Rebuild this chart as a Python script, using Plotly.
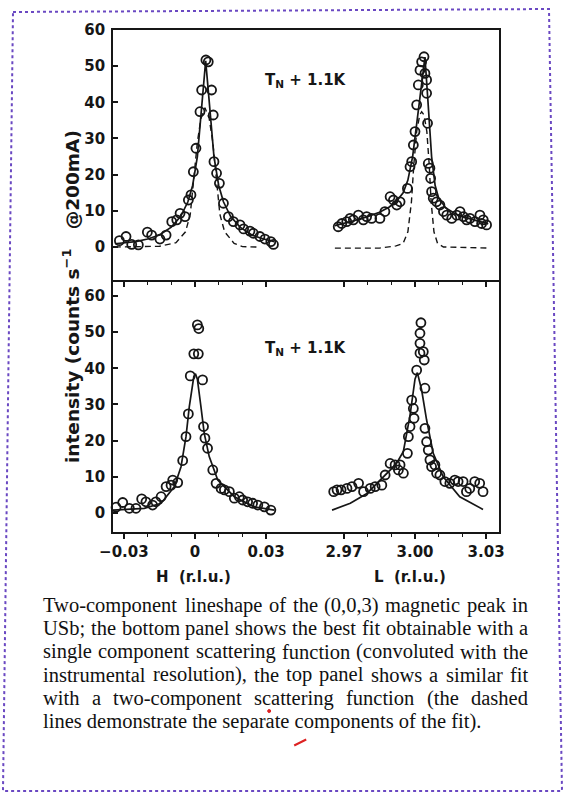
import plotly.graph_objects as go

# ---------------- data ----------------
# top panel, H scan (two-component fit)
h_top_x = [-0.0319, -0.0291, -0.0267, -0.0239, -0.0201, -0.0183, -0.0148, -0.0122, -0.0098, -0.0077,
           -0.0063, -0.0042, -0.0028, -0.0017, -0.0007, 0.0004, 0.0021, 0.0028, 0.0046, 0.0056,
           0.0070, 0.0077, 0.0080, 0.0091, 0.0103, 0.0120, 0.0141, 0.0162, 0.0190, 0.0205,
           0.0232, 0.0246, 0.0274, 0.0295, 0.0320, 0.0331]
h_top_y = [1.75, 2.9, 0.7, 0.6, 4.1, 3.3, 2.2, 3.3, 7.0, 7.5,
           9.3, 8.4, 13.0, 14.4, 20.8, 27.3, 37.4, 43.4, 51.7, 51.2,
           43.4, 36.5, 23.6, 20.4, 17.6, 12.1, 8.4, 7.0, 6.1, 5.0,
           4.4, 3.8, 2.9, 2.2, 1.5, 0.7]
fit_h_top_x = [-0.0338, -0.030, -0.025, -0.020, -0.015, -0.010, -0.006, -0.003, -0.001, 0.001, 0.0025,
               0.0035, 0.0045, 0.0055, 0.0065, 0.008, 0.010, 0.012, 0.015, 0.019, 0.024, 0.029, 0.0335]
fit_h_top_y = [0.9, 1.1, 1.5, 2.2, 3.3, 5.5, 8.5, 12.5, 17, 25, 37,
               44, 51.5, 44, 36, 25, 17, 12.5, 8.5, 5.5, 3.3, 2.2, 1.5]
comp_h_top_x = [-0.0338, -0.015, -0.008, -0.004, -0.002, -0.0005, 0.001, 0.0025, 0.0042, 0.006,
                0.0075, 0.009, 0.0105, 0.0125, 0.0165, 0.020, 0.026]
comp_h_top_y = [0.0, 0.2, 1.2, 4.2, 9, 19, 29, 35.5, 38.5, 35.5,
                29, 19, 9, 4.2, 1.0, 0.1, 0.0]

# top panel, L scan
l_top_x = [2.9676, 2.9691, 2.9712, 2.9726, 2.9740, 2.9761, 2.9782, 2.9796, 2.9817, 2.9852,
           2.9873, 2.9895, 2.9909, 2.9923, 2.9937, 2.9968, 2.9979, 2.9986, 2.9993, 3.0000,
           3.0007, 3.0014, 3.0021, 3.0028, 3.0038, 3.0042, 3.0049, 3.0049, 3.0053, 3.0056,
           3.0063, 3.0066, 3.0070, 3.0077, 3.0091, 3.0105, 3.0120, 3.0134, 3.0155, 3.0176,
           3.0190, 3.0204, 3.0218, 3.0232, 3.0253, 3.0274, 3.0281, 3.0288, 3.0302]
l_top_y = [5.6, 6.5, 7.0, 7.9, 7.5, 8.8, 7.5, 8.4, 7.9, 7.9,
           9.8, 13.9, 13.0, 11.6, 12.5, 16.2, 22.2, 23.6, 28.2, 31.9,
           39.3, 44.8, 48.9, 51.2, 52.6, 48.0, 46.2, 42.5, 34.2, 23.1,
           21.8, 19.0, 15.3, 13.5, 12.5, 11.6, 9.8, 8.8, 7.9, 8.8,
           9.8, 8.4, 7.5, 7.9, 7.0, 8.8, 6.5, 7.5, 6.1]
fit_l_top_x = [2.9662, 2.970, 2.975, 2.980, 2.985, 2.989, 2.992, 2.995, 2.997, 2.999, 3.001,
               3.003, 3.0042, 3.0055, 3.007, 3.0085, 3.010, 3.013, 3.017, 3.021, 3.026, 3.0309]
fit_l_top_y = [5.9, 6.5, 7.4, 8.4, 9.6, 11.0, 12.5, 15.0, 18.5, 25, 36,
               47, 52.5, 40, 25, 17, 13.5, 10.8, 9.2, 8.2, 7.2, 6.4]
comp_l_top_x = [2.9662, 2.985, 2.992, 2.995, 2.997, 2.9985, 2.9995, 3.0007, 3.002, 3.0028,
                3.0038, 3.005, 3.006, 3.0068, 3.008, 3.0095, 3.012, 3.0309]
comp_l_top_y = [-0.3, -0.3, 0.3, 1.0, 4.2, 12.5, 22.7, 31.9, 36.5, 37.4,
                36.5, 31.9, 22.7, 12.5, 4.2, 1.0, 0.0, -0.3]

# bottom panel, H scan (single-component fit)
h_bot_x = [-0.0333, -0.0305, -0.0277, -0.0249, -0.0225, -0.0207, -0.0179, -0.0165, -0.0143, -0.0122,
           -0.0101, -0.0094, -0.0073, -0.0052, -0.0038, -0.0028, -0.0020, -0.0005, 0.0014, 0.0010,
           0.0016, 0.0032, 0.0036, 0.0042, 0.0053, 0.0075, 0.0089, 0.0110, 0.0124, 0.0145,
           0.0166, 0.0187, 0.0201, 0.0222, 0.0243, 0.0265, 0.0293, 0.0320]
h_bot_y = [1.6, 2.9, 1.3, 1.3, 3.9, 3.1, 2.2, 3.1, 4.5, 7.3,
           7.7, 9.1, 8.4, 14.5, 21.1, 27.4, 37.9, 44.0, 44.0, 52.0,
           51.0, 36.8, 23.9, 20.7, 17.9, 11.9, 8.2, 6.8, 6.4, 5.9,
           4.1, 4.5, 3.6, 3.1, 2.7, 2.2, 1.7, 0.8]
fit_h_bot_x = [-0.0350, -0.0214, -0.0143, -0.0087, -0.0059, -0.0038, -0.0024, -0.0005, 0.0002, 0.0010,
               0.0025, 0.0039, 0.0060, 0.0096, 0.0166, 0.0250, 0.0335]
fit_h_bot_y = [0.8, 1.3, 2.7, 7.3, 12.8, 21.1, 29.4, 37.7, 38.5, 37.0,
               29.4, 22.0, 15.6, 9.1, 4.5, 1.7, 0.8]

# bottom panel, L scan
l_bot_x = [2.9657, 2.9671, 2.9688, 2.9713, 2.9734, 2.9762, 2.9783, 2.9811, 2.9832, 2.9860,
           2.9874, 2.9895, 2.9916, 2.9930, 2.9937, 2.9951, 2.9968, 2.9972, 2.9979, 2.9986,
           2.9993, 2.9996, 3.0007, 3.0021, 3.0021, 3.0021, 3.0025, 3.0035, 3.0039, 3.0042,
           3.0042, 3.0049, 3.0056, 3.0063, 3.0070, 3.0084, 3.0091, 3.0105, 3.0126, 3.0147,
           3.0168, 3.0182, 3.0203, 3.0217, 3.0231, 3.0252, 3.0273, 3.0287]
l_bot_y = [5.9, 6.4, 6.4, 6.8, 7.3, 8.2, 5.9, 6.8, 7.3, 7.7,
           10.5, 13.7, 13.3, 11.9, 13.3, 11.0, 16.5, 21.1, 23.9, 31.2,
           28.9, 26.2, 39.5, 44.2, 46.9, 49.7, 52.6, 44.6, 42.3, 34.5,
           23.4, 19.7, 17.4, 14.7, 12.8, 13.3, 11.0, 10.5, 8.7, 8.2,
           9.1, 8.7, 8.7, 5.9, 6.8, 8.7, 8.2, 5.9]
fit_l_bot_x = [2.965, 2.9727, 2.9797, 2.9867, 2.992, 2.9951, 2.9979, 3.0000, 3.0010, 3.0028,
               3.0049, 3.0077, 3.0119, 3.0189, 3.0287]
fit_l_bot_y = [0.8, 2.7, 5.4, 10.0, 13.5, 17.0, 27.0, 37.0, 38.8, 34.0,
               25.7, 16.5, 10.0, 4.5, 1.0]

y_ticks = [0, 10, 20, 30, 40, 50, 60]
h_ticks = [-0.03, 0, 0.03]
h_ticktext = ["\u22120.03", "0", "0.03"]
h_minor = [-0.02, -0.01, 0.01, 0.02]
l_ticks = [2.97, 3.00, 3.03]
l_ticktext = ["2.97", "3.00", "3.03"]
l_minor = [2.98, 2.99, 3.01, 3.02]

caption_lines = [
    "Two-component lineshape of the (0,0,3) magnetic peak in",
    "USb; the bottom panel shows the best fit obtainable with a",
    "single component scattering function (convoluted with the",
    "instrumental resolution), the top panel shows a similar fit",
    "with a two-component scattering function (the dashed",
    "lines demonstrate the separate components of the fit).",
]

# ---------------- layout geometry ----------------
W, HGT = 566, 794
LPX, RPX, TPX, BPX = 113, 499, 30, 532
BREAK_PX, MID_PX = 305, 280
H0_PX, L0_PX, XSCALE = 195, 415, 2370.0
YSCALE = 3.617
TOP_ZERO_PX, BOT_ZERO_PX = 247, 513


def pxx(px):
    return (px - LPX) / (RPX - LPX)


def pxy(py):
    return (BPX - py) / (BPX - TPX)


xsplit = pxx(BREAK_PX)
ysplit = pxy(MID_PX)
h_range = [(LPX - H0_PX) / XSCALE, (BREAK_PX - H0_PX) / XSCALE]
l_range = [3 + (BREAK_PX - L0_PX) / XSCALE, 3 + (RPX - L0_PX) / XSCALE]
top_range = [-(MID_PX - TOP_ZERO_PX) / YSCALE, (TOP_ZERO_PX - TPX) / YSCALE]
bot_range = [-(BPX - BOT_ZERO_PX) / YSCALE, (BOT_ZERO_PX - MID_PX) / YSCALE]

INK = "#161616"
TICKFONT = dict(family="DejaVu Sans", size=15, color=INK, weight="bold")

fig = go.Figure()


def add_points(x, y, xa, ya):
    fig.add_trace(go.Scatter(x=x, y=y, xaxis=xa, yaxis=ya, mode="markers", cliponaxis=False,
                             marker=dict(symbol="circle-open", size=9, color=INK,
                                         line=dict(width=1.8, color=INK)),
                             showlegend=False, hoverinfo="skip"))


def add_line(x, y, xa, ya, dash="solid", width=1.7):
    fig.add_trace(go.Scatter(x=x, y=y, xaxis=xa, yaxis=ya, mode="lines", cliponaxis=False,
                             line=dict(color=INK, width=width, dash=dash),
                             showlegend=False, hoverinfo="skip"))


DASH = "6px,4px"
add_line(comp_h_top_x, comp_h_top_y, "x", "y", DASH, 1.4)
add_line(fit_h_top_x, fit_h_top_y, "x", "y")
add_points(h_top_x, h_top_y, "x", "y")
add_line(comp_l_top_x, comp_l_top_y, "x2", "y2", DASH, 1.4)
add_line(fit_l_top_x, fit_l_top_y, "x2", "y2")
add_points(l_top_x, l_top_y, "x2", "y2")
add_line(fit_h_bot_x, fit_h_bot_y, "x3", "y3")
add_points(h_bot_x, h_bot_y, "x3", "y3")
add_line(fit_l_bot_x, fit_l_bot_y, "x4", "y4")
add_points(l_bot_x, l_bot_y, "x4", "y4")

base_x = dict(showgrid=False, zeroline=False, showline=True, linecolor=INK, linewidth=1.8,
              ticks="outside", ticklen=5, tickwidth=1.6, tickcolor=INK, tickfont=TICKFONT,
              tickmode="array")


def minor(vals, side):
    return dict(tickmode="array", tickvals=vals, ticks=side, ticklen=3, tickwidth=1.4,
                tickcolor=INK, showgrid=False)


def overlay(base, anchor, rng, vals, minors):
    return dict(overlaying=base, anchor=anchor, range=rng, showline=False, showgrid=False,
                zeroline=False, tickmode="array", tickvals=vals, ticks="inside", ticklen=5,
                tickwidth=1.6, tickcolor=INK, showticklabels=False, minor=minor(minors, "inside"))


layout_axes = dict(
    xaxis=dict(base_x, domain=[0, xsplit], anchor="y", range=h_range, tickvals=h_ticks,
               showticklabels=False, mirror=True, minor=minor(h_minor, "outside")),
    xaxis2=dict(base_x, domain=[xsplit, 1], anchor="y2", range=l_range, tickvals=l_ticks,
                showticklabels=False, mirror=True, minor=minor(l_minor, "outside")),
    xaxis3=dict(base_x, domain=[0, xsplit], anchor="y3", range=h_range, tickvals=h_ticks,
                ticktext=h_ticktext, mirror=False, minor=minor(h_minor, "outside")),
    xaxis4=dict(base_x, domain=[xsplit, 1], anchor="y4", range=l_range, tickvals=l_ticks,
                ticktext=l_ticktext, mirror=False, minor=minor(l_minor, "outside")),
    xaxis5=overlay("x3", "y3", h_range, h_ticks, h_minor),
    xaxis6=overlay("x4", "y4", l_range, l_ticks, l_minor),
    xaxis7=overlay("x", "y", h_range, h_ticks, h_minor),
    xaxis8=overlay("x2", "y2", l_range, l_ticks, l_minor),
)

base_y = dict(showgrid=False, zeroline=False, showline=True, linecolor=INK, linewidth=1.8)
layout_axes.update(
    yaxis=dict(base_y, domain=[ysplit, 1], anchor="x", range=top_range, tickmode="array",
               tickvals=y_ticks, ticks="inside", ticklen=5, tickwidth=1.6, tickcolor=INK,
               tickfont=TICKFONT, ticklabelstandoff=3),
    yaxis2=dict(base_y, domain=[ysplit, 1], anchor="x2", side="right", range=top_range,
                showticklabels=False, ticks=""),
    yaxis3=dict(base_y, domain=[0, ysplit], anchor="x3", range=bot_range, tickmode="array",
                tickvals=y_ticks, ticks="inside", ticklen=5, tickwidth=1.6, tickcolor=INK,
                tickfont=TICKFONT, ticklabelstandoff=3),
    yaxis4=dict(base_y, domain=[0, ysplit], anchor="x4", side="right", range=bot_range,
                showticklabels=False, ticks=""),
)

LABFONT = dict(family="DejaVu Sans", size=15, color=INK, weight="bold")
ann = []
for py in (80, 348):
    ann.append(dict(xref="paper", yref="paper", x=pxx(263), y=pxy(py), xanchor="left",
                    yanchor="middle", showarrow=False, text="T<sub>N</sub> + 1.1K",
                    font=LABFONT))
ann.append(dict(xref="paper", yref="paper", x=pxx(71), y=pxy(297), textangle=-90,
                xanchor="center", yanchor="middle", showarrow=False,
                text="intensity (counts s<sup>\u22121</sup>   @200mA)",
                font=dict(LABFONT, size=18.5)))
ann.append(dict(xref="paper", yref="paper", x=pxx(193), y=pxy(577), xanchor="center",
                yanchor="middle", showarrow=False, text="H  (r.l.u.)", font=LABFONT))
ann.append(dict(xref="paper", yref="paper", x=pxx(410), y=pxy(577), xanchor="center",
                yanchor="middle", showarrow=False, text="L  (r.l.u.)", font=LABFONT))

# caption, justified like the printed text (Times-compatible advance widths)
TIMES = {" ": 250, "(": 333, ")": 333, ",": 250, "-": 333, ".": 250, ";": 278,
         "0": 500, "3": 500, "T": 611, "U": 722, "S": 556,
         "a": 444, "b": 500, "c": 444, "d": 500, "e": 444, "f": 333, "g": 500, "h": 500,
         "i": 278, "k": 500, "l": 278, "m": 778, "n": 500, "o": 500, "p": 500, "r": 333,
         "s": 389, "t": 278, "u": 500, "v": 500, "w": 722, "y": 500}
CAP_SIZE = 20.5
CAP_LEFT, CAP_RIGHT = 42, 527
CAP_TOP, CAP_STEP = 605, 23.3
CAPFONT = dict(family="Liberation Serif", size=CAP_SIZE, color="#111111")


def tw(s):
    return sum(TIMES.get(c, 500) for c in s) * CAP_SIZE / 1000.0


for i, line in enumerate(caption_lines):
    cy = pxy(CAP_TOP + CAP_STEP * i)
    if i == len(caption_lines) - 1:
        ann.append(dict(xref="paper", yref="paper", x=pxx(CAP_LEFT - 1), y=cy, xanchor="left",
                        yanchor="middle", showarrow=False, text=line, font=CAPFONT))
        continue
    words = line.split(" ")
    total = sum(tw(w) for w in words)
    gap = (CAP_RIGHT - CAP_LEFT - total) / (len(words) - 1)
    xpos = CAP_LEFT
    for w in words:
        ann.append(dict(xref="paper", yref="paper", x=pxx(xpos - 1), y=cy, xanchor="left",
                        yanchor="middle", showarrow=False, text=w, font=CAPFONT))
        xpos += tw(w) + gap

last = caption_lines[-1]
dot_x = CAP_LEFT + tw(last[:last.index("separate") + 5]) + tw("a") / 2
tick_x = CAP_LEFT + tw(last[:last.index("components")]) + tw("c") / 2
last_y = CAP_TOP + CAP_STEP * (len(caption_lines) - 1)

BORDER = "#6a48c2"
shapes = [
    dict(type="path", xref="paper", yref="paper",
         path="M {} {} L {} {} L {} {} L {} {} Z".format(pxx(13), pxy(12), pxx(549), pxy(9),
                                                          pxx(562), pxy(791), pxx(3), pxy(791)),
         line=dict(color=BORDER, width=2, dash="dot"), fillcolor="rgba(0,0,0,0)"),
    dict(type="line", xref="paper", yref="paper", x0=pxx(tick_x - 4), y0=pxy(last_y + 24),
         x1=pxx(tick_x + 8), y1=pxy(last_y + 18), line=dict(color="#d22", width=2)),
    dict(type="circle", xref="paper", yref="paper", x0=pxx(dot_x - 1.5), y0=pxy(last_y - 12),
         x1=pxx(dot_x + 1.5), y1=pxy(last_y - 9), line=dict(color="#d22", width=1),
         fillcolor="#d22"),
]

fig.update_layout(width=W, height=HGT, margin=dict(l=LPX, r=W - RPX, t=TPX, b=HGT - BPX),
                  paper_bgcolor="white", plot_bgcolor="white", annotations=ann, shapes=shapes,
                  showlegend=False, **layout_axes)

fig.write_html("out.html", config={"displayModeBar": False},
               post_script="document.body.style.margin='0';")
